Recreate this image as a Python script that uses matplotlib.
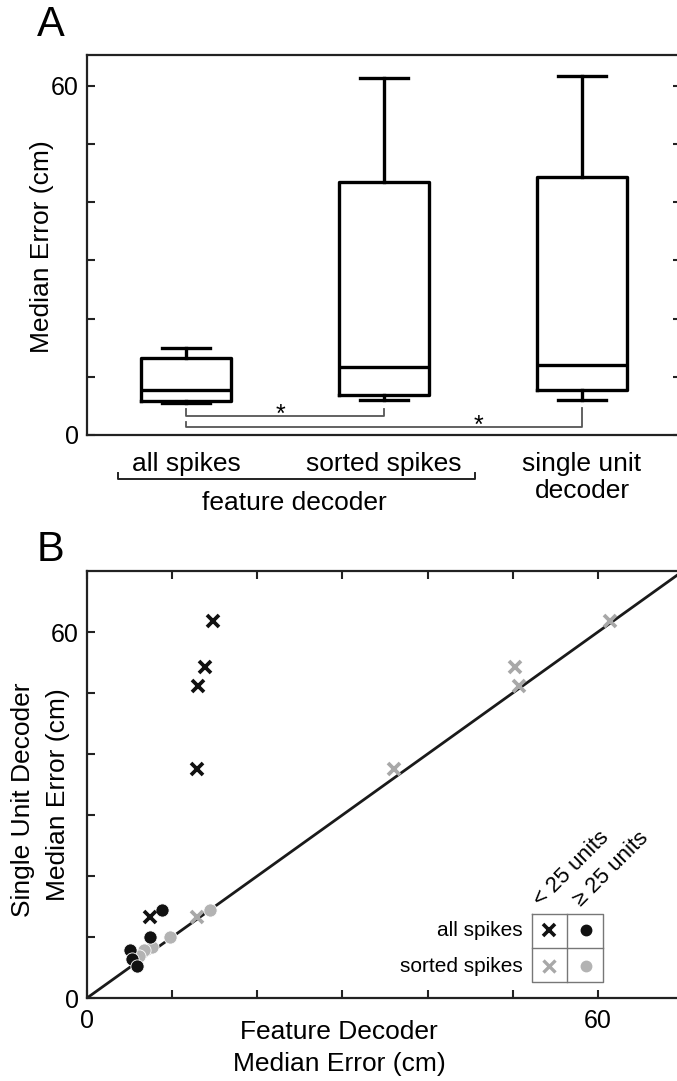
import matplotlib
matplotlib.use("Agg")
import matplotlib.pyplot as plt

plt.rcParams['font.family'] = ['Liberation Sans', 'DejaVu Sans']

# ---------------- data ----------------
# Panel A box statistics (cm)
box_labels = ['all spikes', 'sorted spikes', 'single unit\ndecoder']
whis_lo = [5.5, 6.0, 6.0]
q1_vals = [5.9, 6.8, 7.7]
medians = [7.8, 11.6, 12.0]
q3_vals = [13.3, 43.4, 44.4]
whis_hi = [15.0, 61.4, 61.7]

# Panel B scatter (feature decoder error, single unit decoder error)
all_lt25_x = [14.8, 13.9, 13.0, 12.9, 7.4]
all_lt25_y = [61.8, 54.2, 51.1, 37.6, 13.2]
all_ge25_x = [8.8, 7.4, 5.1, 5.3, 5.9]
all_ge25_y = [14.4, 10.0, 7.9, 6.4, 5.3]
sorted_lt25_x = [61.4, 50.3, 50.7, 36.0, 12.9]
sorted_lt25_y = [61.8, 54.2, 51.1, 37.6, 13.2]
sorted_ge25_x = [14.5, 9.7, 7.6, 6.7, 6.1]
sorted_ge25_y = [14.5, 10.0, 8.3, 7.8, 6.9]

W, H = 677, 1081
fig = plt.figure(figsize=(W / 100, H / 100), dpi=100)

def fx(px):
    return px / W

def fy(py):
    return 1 - py / H

spine_c = '#222222'
BLACK = '#111111'
GRAY_X = '#a8a8a8'
GRAY_D = '#b3b3b3'

# ---------------- Panel A ----------------
axA = fig.add_axes([fx(87), fy(435), 594 / W, 380 / H])
stats = []
for i in range(len(box_labels)):
    stats.append(dict(med=medians[i], q1=q1_vals[i], q3=q3_vals[i],
                      whislo=whis_lo[i], whishi=whis_hi[i], fliers=[]))
lw = 2.4
axA.bxp(stats, positions=[1, 2, 3], widths=0.45, showfliers=False,
        boxprops=dict(color='black', linewidth=lw),
        medianprops=dict(color='black', linewidth=lw),
        whiskerprops=dict(color='black', linewidth=lw),
        capprops=dict(color='black', linewidth=lw),
        capwidths=0.24, manage_ticks=False)
axA.set_xlim(0.5, 3.5)
axA.set_ylim(0, 65.3)
axA.set_yticks(range(0, 61, 10))
axA.set_yticklabels(['0', '', '', '', '', '', '60'], fontsize=18)
axA.set_xticks([1, 2, 3])
axA.set_xticklabels(box_labels, fontsize=19, linespacing=1.15)
axA.tick_params(axis='x', length=0, pad=12)
axA.tick_params(axis='y', direction='in', length=6, width=1.5, color=spine_c,
                pad=6, right=True)
for s in axA.spines.values():
    s.set_linewidth(1.6)
    s.set_color(spine_c)

# significance brackets
bc = '#555555'
axA.plot([1, 1, 2, 2], [4.5, 3.26, 3.26, 4.5], color=bc, lw=1.3)
axA.plot([1, 1, 3, 3], [2.3, 1.32, 1.32, 4.7], color=bc, lw=1.3)
axA.text(1.475, 2.2, '*', ha='center', va='baseline', fontsize=18)
axA.text(2.475, 0.3, '*', ha='center', va='baseline', fontsize=18)

# ---------------- Panel B ----------------
axB = fig.add_axes([fx(87), fy(998), 596 / W, 427 / H])
axB.axline((0, 0), slope=1, color='#1a1a1a', lw=2.0, zorder=1)
axB.plot(sorted_ge25_x, sorted_ge25_y, 'o', color=GRAY_D, ms=9.5, mec='white', mew=0.6, zorder=3)
axB.plot(sorted_lt25_x, sorted_lt25_y, 'x', color=GRAY_X, ms=9, mew=2.7, zorder=3)
axB.plot(all_ge25_x, all_ge25_y, 'o', color=BLACK, ms=9.5, mec='white', mew=0.6, zorder=4)
axB.plot(all_lt25_x, all_lt25_y, 'x', color=BLACK, ms=9, mew=2.7, zorder=4)
axB.set_xlim(0, 70)
axB.set_ylim(0, 70)
axB.set_xticks(range(0, 61, 10))
axB.set_xticklabels(['0', '', '', '', '', '', '60'], fontsize=18)
axB.set_yticks(range(0, 61, 10))
axB.set_yticklabels(['0', '', '', '', '', '', '60'], fontsize=18)
axB.tick_params(axis='both', direction='in', length=6, width=1.5, color=spine_c)
axB.tick_params(axis='x', top=True, pad=8)
axB.tick_params(axis='y', pad=6)
for s in axB.spines.values():
    s.set_linewidth(1.6)
    s.set_color(spine_c)

# ---------------- overlay (pixel coordinates) ----------------
ov = fig.add_axes([0, 0, 1, 1], facecolor='none')
ov.set_xlim(0, W)
ov.set_ylim(H, 0)
ov.axis('off')

ov.text(51, 25, 'A', fontsize=30, ha='center', va='center')
ov.text(51, 550, 'B', fontsize=30, ha='center', va='center')

# panel A y label
ov.text(42, 247, 'Median Error (cm)', fontsize=19, rotation=90, ha='center', va='center')

# feature decoder bracket
ov.plot([118, 118, 475, 475], [473, 479, 479, 473], color='#222222', lw=1.4)
ov.text(294, 503, 'feature decoder', fontsize=19, ha='center', va='center')

# panel B axis labels
ov.text(23, 800, 'Single Unit Decoder', fontsize=19, rotation=90, ha='center', va='center')
ov.text(58, 795, 'Median Error (cm)', fontsize=19, rotation=90, ha='center', va='center')
ov.text(339, 1032, 'Feature Decoder', fontsize=19, ha='center', va='center')
ov.text(339, 1064, 'Median Error (cm)', fontsize=19, ha='center', va='center')

# legend table
lc = '#777777'
ov.plot([531.7, 603, 603, 531.7, 531.7], [914.3, 914.3, 981.7, 981.7, 914.3], color=lc, lw=1)
ov.plot([567.3, 567.3], [914.3, 981.7], color=lc, lw=1)
ov.plot([531.7, 603], [948, 948], color=lc, lw=1)
ov.plot([549.3], [930], 'x', color=BLACK, ms=8, mew=2.6)
ov.plot([585.7], [930], 'o', color=BLACK, ms=7.5)
ov.plot([549.3], [965.7], 'x', color=GRAY_X, ms=8, mew=2.4)
ov.plot([585.7], [965.7], 'o', color=GRAY_D, ms=7.5)
ov.text(523, 930, 'all spikes', fontsize=15, ha='right', va='center')
ov.text(523, 966, 'sorted spikes', fontsize=15, ha='right', va='center')
ov.text(545, 911, '< 25 units', fontsize=16, rotation=45, rotation_mode='anchor',
        ha='left', va='bottom')
ov.text(585, 911, '\u2265 25 units', fontsize=16, rotation=45, rotation_mode='anchor',
        ha='left', va='bottom')

fig.savefig('out.png', dpi=100)
